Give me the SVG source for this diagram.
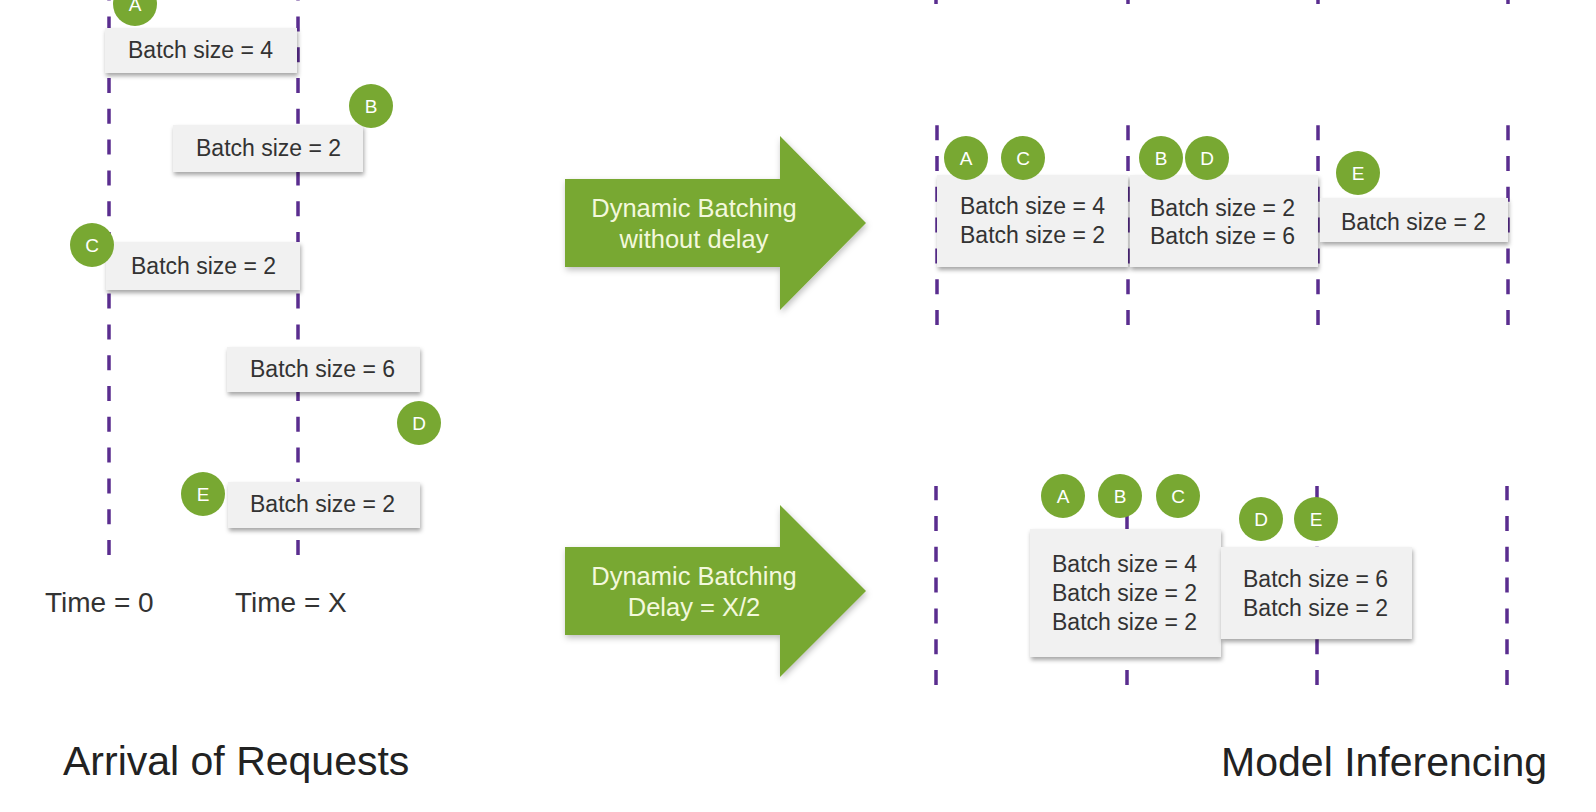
<svg xmlns="http://www.w3.org/2000/svg" width="1596" height="812" viewBox="0 0 1596 812">
<defs>
<filter id="sh" x="-10%" y="-20%" width="120%" height="160%">
<feDropShadow dx="1" dy="3" stdDeviation="2" flood-color="#000" flood-opacity="0.35"/>
</filter>
<filter id="sh2" x="-10%" y="-10%" width="120%" height="130%">
<feDropShadow dx="1" dy="3" stdDeviation="3" flood-color="#000" flood-opacity="0.25"/>
</filter>
</defs>
<style>
.dash{stroke:#5a2d8f;stroke-width:3.5;stroke-dasharray:15 15.8;fill:none}
.box{fill:#f1f1f1;filter:url(#sh)}
.bt{font-family:"Liberation Sans",Arial,sans-serif;font-size:23px;fill:#333}
.cir{fill:#78a832}
.ct{font-family:"Liberation Sans",Arial,sans-serif;font-size:19px;fill:#fff;text-anchor:middle}
.arr{fill:#78a832;filter:url(#sh2)}
.at{font-family:"Liberation Sans",Arial,sans-serif;font-size:25.5px;fill:#f3f8dc;text-anchor:middle}
.tt{font-family:"Liberation Sans",Arial,sans-serif;font-size:28px;fill:#333}
.title{font-family:"Liberation Sans",Arial,sans-serif;font-size:41px;fill:#222}
</style>
<rect width="1596" height="812" fill="#fff"/>

<g id="connectors">
<line class="dash" x1="109" y1="555" x2="109" y2="0"/>
<line class="dash" x1="298" y1="555" x2="298" y2="0"/>
<line class="dash" x1="936" y1="4" x2="936" y2="0"/>
<line class="dash" x1="1128" y1="4" x2="1128" y2="0"/>
<line class="dash" x1="1318" y1="4" x2="1318" y2="0"/>
<line class="dash" x1="1508" y1="4" x2="1508" y2="0"/>
<line class="dash" x1="937" y1="325" x2="937" y2="124"/>
<line class="dash" x1="1128" y1="325" x2="1128" y2="124"/>
<line class="dash" x1="1318" y1="325" x2="1318" y2="124"/>
<line class="dash" x1="1508" y1="325" x2="1508" y2="124"/>
<line class="dash" x1="936" y1="685" x2="936" y2="486"/>
<line class="dash" x1="1127" y1="685" x2="1127" y2="486"/>
<line class="dash" x1="1317" y1="685" x2="1317" y2="486"/>
<line class="dash" x1="1507" y1="685" x2="1507" y2="486"/>
</g>

<g id="left-A">
<rect class="box" x="105" y="28" width="192" height="45"/>
<text class="bt" x="128" y="58">Batch size = 4</text>
<circle class="cir" cx="135" cy="4" r="22"/>
<text class="ct" x="135" y="11">A</text>
</g>
<g id="left-B">
<rect class="box" x="173" y="125" width="190" height="47"/>
<text class="bt" x="196" y="156">Batch size = 2</text>
<circle class="cir" cx="371" cy="106" r="22"/>
<text class="ct" x="371" y="113">B</text>
</g>
<g id="left-C">
<rect class="box" x="106" y="242" width="194" height="48"/>
<text class="bt" x="131" y="274">Batch size = 2</text>
<circle class="cir" cx="92" cy="245" r="22"/>
<text class="ct" x="92" y="252">C</text>
</g>
<g id="left-D">
<rect class="box" x="227" y="347" width="193" height="45"/>
<text class="bt" x="250" y="377">Batch size = 6</text>
<circle class="cir" cx="419" cy="423" r="22"/>
<text class="ct" x="419" y="430">D</text>
</g>
<g id="left-E">
<rect class="box" x="228" y="482" width="192" height="46"/>
<text class="bt" x="250" y="512">Batch size = 2</text>
<circle class="cir" cx="203" cy="494" r="22"/>
<text class="ct" x="203" y="501">E</text>
</g>

<g id="time-labels">
<text class="tt" x="45" y="612">Time = 0</text>
<text class="tt" x="235" y="612">Time = X</text>
</g>

<g id="arrow-nodelay">
<path class="arr" d="M565,179 H780 V136 L866,223 L780,310 V267 H565 Z"/>
<text class="at" x="694" y="217">Dynamic Batching</text>
<text class="at" x="694" y="248">without delay</text>
</g>
<g id="arrow-delay">
<path class="arr" d="M565,547 H780 V505 L866,591 L780,677 V635 H565 Z"/>
<text class="at" x="694" y="585">Dynamic Batching</text>
<text class="at" x="694" y="616">Delay = X/2</text>
</g>

<g id="nodelay-batch1">
<rect class="box" x="937" y="175" width="191" height="92"/>
<text class="bt" x="960" y="214">Batch size = 4</text>
<text class="bt" x="960" y="243">Batch size = 2</text>
<circle class="cir" cx="966" cy="158" r="22"/>
<text class="ct" x="966" y="165">A</text>
<circle class="cir" cx="1023" cy="158" r="22"/>
<text class="ct" x="1023" y="165">C</text>
</g>
<g id="nodelay-batch2">
<rect class="box" x="1130" y="175" width="188" height="92"/>
<text class="bt" x="1150" y="216">Batch size = 2</text>
<text class="bt" x="1150" y="244">Batch size = 6</text>
<circle class="cir" cx="1161" cy="158" r="22"/>
<text class="ct" x="1161" y="165">B</text>
<circle class="cir" cx="1207" cy="158" r="22"/>
<text class="ct" x="1207" y="165">D</text>
</g>
<g id="nodelay-batch3">
<rect class="box" x="1320" y="198" width="188" height="44"/>
<text class="bt" x="1341" y="230">Batch size = 2</text>
<circle class="cir" cx="1358" cy="173" r="22"/>
<text class="ct" x="1358" y="180">E</text>
</g>

<g id="delay-batch1">
<rect class="box" x="1030" y="529" width="191" height="128"/>
<text class="bt" x="1052" y="572">Batch size = 4</text>
<text class="bt" x="1052" y="601">Batch size = 2</text>
<text class="bt" x="1052" y="630">Batch size = 2</text>
<circle class="cir" cx="1063" cy="496" r="22"/>
<text class="ct" x="1063" y="503">A</text>
<circle class="cir" cx="1120" cy="496" r="22"/>
<text class="ct" x="1120" y="503">B</text>
<circle class="cir" cx="1178" cy="496" r="22"/>
<text class="ct" x="1178" y="503">C</text>
</g>
<g id="delay-batch2">
<rect class="box" x="1221" y="547" width="191" height="92"/>
<text class="bt" x="1243" y="587">Batch size = 6</text>
<text class="bt" x="1243" y="616">Batch size = 2</text>
<circle class="cir" cx="1261" cy="519" r="22"/>
<text class="ct" x="1261" y="526">D</text>
<circle class="cir" cx="1316" cy="519" r="22"/>
<text class="ct" x="1316" y="526">E</text>
</g>

<g id="titles">
<text class="title" x="63" y="775">Arrival of Requests</text>
<text class="title" x="1547" y="776" text-anchor="end">Model Inferencing</text>
</g>
</svg>
